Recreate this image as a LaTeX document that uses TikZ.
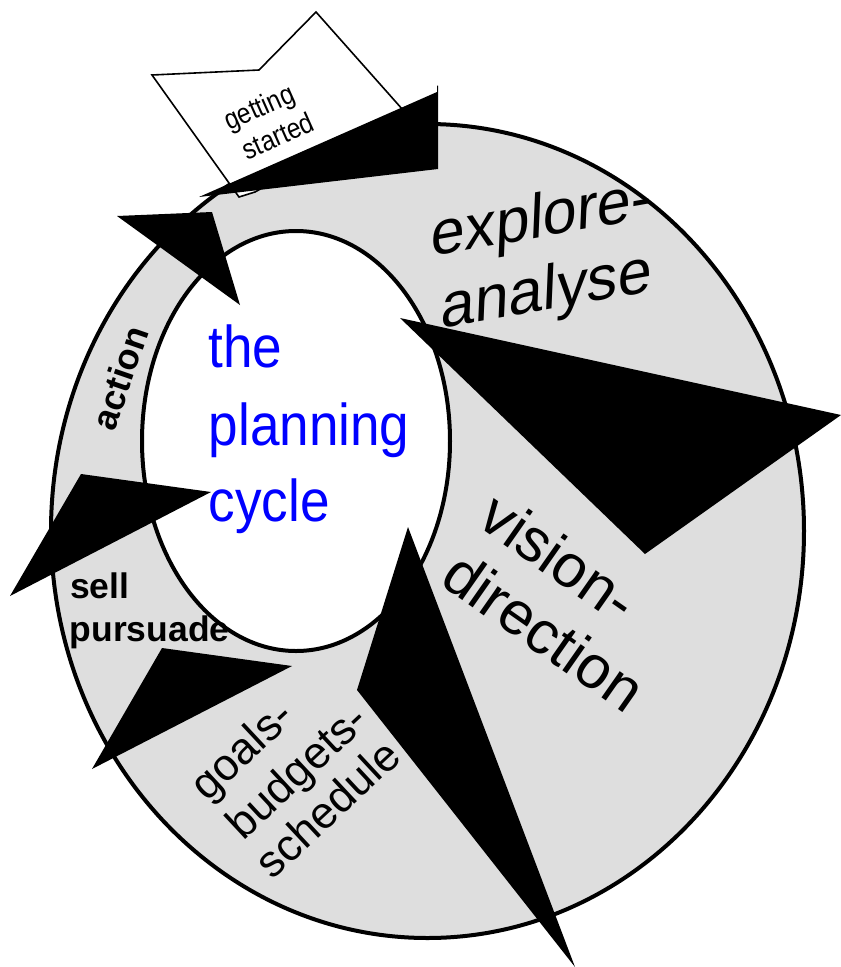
\documentclass[tikz,border=0pt]{standalone}
\usepackage{fontspec}
\setmainfont{Liberation Sans}
\newfontfamily\titlefont[FakeStretch=0.9]{Liberation Sans}
\newfontfamily\sheetfont[FakeStretch=0.86]{Liberation Sans}
\newfontfamily\slantfont[FakeSlant=0.22]{Liberation Sans}
\definecolor{ringgrey}{gray}{0.87}
\newcommand{\fs}[1]{\fontsize{#1}{#1}\selectfont}
\tikzset{
  wedge/.style={fill=black,draw=none},
  ringline/.style={draw=black,line width=4pt},
  lbl/.style={inner sep=0pt,anchor=base},
  lblw/.style={inner sep=0pt,anchor=base west},
  titletext/.style={lblw,text=blue,font=\titlefont\fs{59}},
  slanttext/.style={lbl,rotate=10,font=\slantfont\fs{62}},
  visiontext/.style={lbl,rotate=-35,font=\fs{60.5}},
  goalstext/.style={lbl,rotate=43,font=\fs{44.5}},
  sheettext/.style={lbl,rotate=24,font=\sheetfont\fs{28.5}},
  boldtext/.style={lblw,font=\bfseries\fs{35.5}},
}
\begin{document}
\begin{tikzpicture}[x=1pt,y=-1pt]
\useasboundingbox (0,0) rectangle (841,967);
% ring
\draw[ringline,fill=ringgrey] (427.5,531) ellipse [x radius=376.5,y radius=407];
\draw[ringline,fill=white] (296,441) ellipse [x radius=154,y radius=210];
% getting started sheet
\draw[line width=1.6pt,fill=white,line join=miter] (152,75) -- (259,70) -- (316,12) -- (403,110) -- (255,192) -- (239,197) -- cycle;
\node[sheettext] (gs1) at (263,116) {getting};
\node[sheettext] (gs2) at (282,145) {started};
% wedges
\fill[wedge] (199,197) -- (437,92) -- (437,85.5) -- (438,85.5) -- (438,169) -- cycle;
\fill[wedge] (117,216) -- (212,212) -- (240,305) -- cycle;
\fill[wedge] (400,318) -- (841,415) -- (645,554) -- cycle;
\fill[wedge] (10,596) -- (81,474) -- (211,492) -- cycle;
\fill[wedge] (92,769) -- (162,648) -- (292,666) -- cycle;
\fill[wedge] (408,527) -- (575,967) -- (357,690) -- cycle;
% labels
\node[titletext] (t1) at (208.5,367) {the};
\node[titletext] (t2) at (208.5,445) {planning};
\node[titletext] (t3) at (208.5,521) {cycle};
\node[slanttext] (e1) at (541,237) {explore-};
\node[slanttext] (e2) at (546,310) {analyse};
\node[visiontext] (v1) at (547,575) {vision-};
\node[visiontext] (v2) at (532,649) {direction};
\node[goalstext] (g1) at (252,761) {goals-};
\node[goalstext] (g2) at (307,782) {budgets-};
\node[goalstext] (g3) at (338,820) {schedule};
\node[lbl,rotate=71,font=\bfseries\fs{36}] (action) at (132,382) {action};
\node[boldtext] (s1) at (70,598) {sell};
\node[boldtext] (s2) at (69.5,641) {pursuade};
\end{tikzpicture}
\end{document}
